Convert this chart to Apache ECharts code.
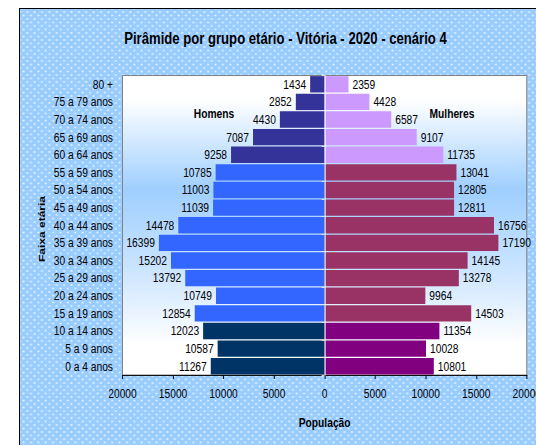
<!DOCTYPE html>
<html>
<head>
<meta charset="utf-8">
<script src="https://cdn.jsdelivr.net/npm/echarts@6/dist/echarts.min.js"></script>
<style>
  html, body { margin: 0; padding: 0; background: #ffffff; overflow: hidden; }
  /* The chart is laid out wide and squeezed horizontally to get a narrow typeface look */
  #chart { width: 654px; height: 445px; transform: scaleX(0.82); transform-origin: 0 0; }
</style>
</head>
<body>
<div id="chart"></div>
<script>
// Age groups, bottom row first
const ageGroups = [
  '0 a 4 anos', '5 a 9 anos', '10 a 14 anos', '15 a 19 anos', '20 a 24 anos',
  '25 a 29 anos', '30 a 34 anos', '35 a 39 anos', '40 a 44 anos', '45 a 49 anos',
  '50 a 54 anos', '55 a 59 anos', '60 a 64 anos', '65 a 69 anos', '70 a 74 anos',
  '75 a 79 anos', '80 +'
];
const men = [
  11267, 10587, 12023, 12854, 10749, 13792, 15202, 16399, 14478, 11039,
  11003, 10785, 9258, 7087, 4430, 2852, 1434
];
const women = [
  10801, 10028, 11354, 14503, 9964, 13278, 14145, 17190, 16756, 12811,
  12805, 13041, 11735, 9107, 6587, 4428, 2359
];
const axisMin = -20000;
const axisMax = 20000;
const axisStep = 5000;

const chartTitle = 'Pirâmide por grupo etário - Vitória - 2020 - cenário 4';

const FONT = "'Liberation Sans', Arial, sans-serif";
const SX = 0.82;              // horizontal squeeze applied to the container
const X = px => px / SX;      // screen x -> layout x

// Colour bands: children (0-14), working age (15-59), elderly (60+)
function band(i) { return i < 3 ? 0 : (i < 12 ? 1 : 2); }
const menColors = ['#003366', '#3366FF', '#333399'];
const womenColors = ['#800080', '#993366', '#CC99FF'];

// Dotted light-blue fill used behind the whole chart
function dotTile() {
  const c = document.createElement('canvas');
  c.width = 9; c.height = 7;
  const g = c.getContext('2d');
  g.fillStyle = '#99CCFF';
  g.fillRect(0, 0, 9, 7);
  [[1, 1], [5.5, 4.5]].forEach(([x, y]) => {
    g.fillStyle = 'rgba(255,255,255,0.45)';
    g.fillRect(x - 0.5, y - 0.5, 2.5, 2);
    g.fillStyle = 'rgba(255,255,255,0.85)';
    g.fillRect(x, y, 1.3, 1);
  });
  return c;
}

const chart = echarts.init(document.getElementById('chart'), null, { renderer: 'svg' });

const centered = { align: 'center', verticalAlign: 'middle', textAlign: 'center', textVerticalAlign: 'middle' };

const option = {
  animation: false,
  backgroundColor: '#ffffff',
  graphic: {
    elements: [
      {
        type: 'rect', z: -10, silent: true,
        shape: { x: X(19.5), y: 8.5, width: 800, height: 500 },
        style: { fill: { image: dotTile(), repeat: 'repeat' }, stroke: '#000000', lineWidth: 1.2 }
      },
      {
        type: 'text', x: X(285.5), y: 39, silent: true,
        style: Object.assign({ text: chartTitle, font: 'bold 16px ' + FONT, fill: '#000' }, centered)
      },
      {
        type: 'text', x: X(214), y: 114, z: 10, silent: true,
        style: Object.assign({ text: 'Homens', font: 'bold 12.5px ' + FONT, fill: '#000' }, centered)
      },
      {
        type: 'text', x: X(452), y: 114, z: 10, silent: true,
        style: Object.assign({ text: 'Mulheres', font: 'bold 12.5px ' + FONT, fill: '#000' }, centered)
      },
      {
        type: 'text', x: X(41.5), y: 229, rotation: Math.PI / 2, silent: true,
        style: Object.assign({ text: 'Faixa etária', font: 'bold 12px ' + FONT, fill: '#000' }, centered)
      }
    ]
  },
  grid: {
    left: X(122.5), right: X(9.5), top: 75.5, bottom: 70,
    outerBoundsMode: 'none',
    containLabel: false,
    show: true,
    borderColor: '#808080', borderWidth: 1.2,
    backgroundColor: new echarts.graphic.LinearGradient(0, 0, 0, 1, [
      { offset: 0, color: '#ffffff' },
      { offset: 0.08, color: '#ffffff' },
      { offset: 0.38, color: '#9fcfff' },
      { offset: 0.62, color: '#c6e2ff' },
      { offset: 0.9, color: '#ffffff' },
      { offset: 1, color: '#ffffff' }
    ])
  },
  xAxis: {
    type: 'value',
    min: axisMin, max: axisMax, interval: axisStep,
    axisLine: { show: true, onZero: false, lineStyle: { color: '#000', width: 1 } },
    axisTick: { show: true, length: 4, lineStyle: { color: '#000', width: 1.2 } },
    splitLine: { show: false },
    axisLabel: {
      margin: 12.5, fontFamily: FONT, fontSize: 12.5, color: '#000',
      hideOverlap: false,
      formatter: v => String(Math.abs(v))
    },
    name: 'População',
    nameLocation: 'middle',
    nameGap: 41,
    nameTextStyle: { fontFamily: FONT, fontSize: 12.5, fontWeight: 'bold', color: '#000' }
  },
  yAxis: [
    {
      type: 'category', data: ageGroups, position: 'left',
      axisLine: { show: false, onZero: false },
      axisTick: { show: false },
      axisLabel: { margin: X(9.5), fontFamily: FONT, fontSize: 12.5, color: '#000' }
    },
    {
      type: 'category', data: ageGroups, position: 'left', z: 5,
      axisLine: { show: true, onZero: true, lineStyle: { color: '#ffffff', width: 1.2 } },
      axisTick: { show: true, length: X(3), lineStyle: { color: '#e6e6e6' } },
      axisLabel: { show: false }
    }
  ],
  series: [
    {
      name: 'Homens', type: 'bar', yAxisIndex: 0,
      data: men.map(v => -v),
      barGap: '-100%', barCategoryGap: '7%',
      itemStyle: { color: p => menColors[band(p.dataIndex)] },
      label: {
        show: true, position: 'left', distance: X(4),
        fontFamily: FONT, fontSize: 12.5, color: '#000',
        formatter: p => String(Math.abs(p.value))
      }
    },
    {
      name: 'Mulheres', type: 'bar', yAxisIndex: 0,
      data: women,
      barGap: '-100%', barCategoryGap: '7%',
      itemStyle: { color: p => womenColors[band(p.dataIndex)] },
      label: {
        show: true, position: 'right', distance: X(4),
        fontFamily: FONT, fontSize: 12.5, color: '#000',
        formatter: p => String(p.value)
      }
    }
  ]
};

chart.setOption(option);
</script>
</body>
</html>
